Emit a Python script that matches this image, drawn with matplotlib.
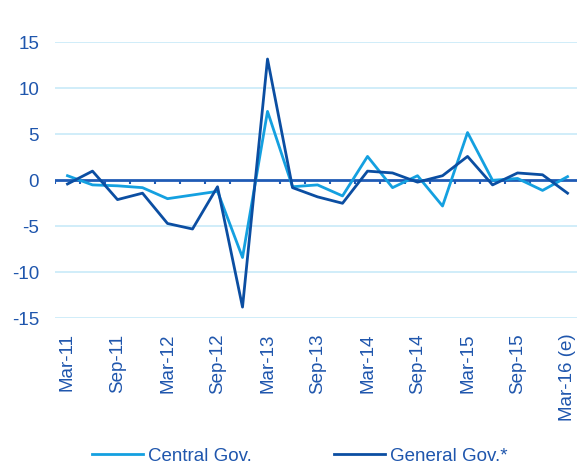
import matplotlib
matplotlib.use("Agg")
import matplotlib.pyplot as plt
from matplotlib.lines import Line2D

plt.rcParams['font.family'] = ['Liberation Sans', 'DejaVu Sans']

# quarterly balance, Mar-11 .. Mar-16 (e)
quarters = ['Mar-11', 'Jun-11', 'Sep-11', 'Dec-11', 'Mar-12', 'Jun-12', 'Sep-12', 'Dec-12',
            'Mar-13', 'Jun-13', 'Sep-13', 'Dec-13', 'Mar-14', 'Jun-14', 'Sep-14', 'Dec-14',
            'Mar-15', 'Jun-15', 'Sep-15', 'Dec-15', 'Mar-16 (e)']
central_gov = [0.5, -0.5, -0.6, -0.8, -2.0, -1.6, -1.2, -8.4, 7.5, -0.7, -0.5,
               -1.7, 2.6, -0.8, 0.5, -2.8, 5.2, 0.0, 0.2, -1.1, 0.4]
general_gov = [-0.4, 1.0, -2.1, -1.4, -4.7, -5.3, -0.7, -13.8, 13.2, -0.8, -1.8,
               -2.5, 1.0, 0.8, -0.2, 0.5, 2.6, -0.5, 0.8, 0.6, -1.4]
yticks = [-15, -10, -5, 0, 5, 10, 15]

light = '#14a0e0'
dark = '#0b4ea2'
txt = '#1f56ad'
grid = '#c8eaf8'
fs = 13.5

fig = plt.figure(figsize=(5.77, 4.72), dpi=100)
ax = fig.add_axes([0.0953, 0.326, 0.91, 0.584])

x = list(range(len(quarters)))
ax.set_xlim(-0.5, len(quarters) - 0.5)
ax.set_ylim(-15, 15)

for v in yticks:
    if v != 0:
        ax.axhline(v, color=grid, lw=1.2, zorder=0)

ax.plot(x, central_gov, color=light, lw=2, zorder=3)
ax.plot(x, general_gov, color=dark, lw=2, zorder=4)

# zero axis with small tick marks between categories
ax.axhline(0, color='#1f5bb5', lw=2, zorder=2)
for b in range(len(quarters) + 1):
    ax.plot([b - 0.5, b - 0.5], [0, -0.35], color='#1f5bb5', lw=1.5, zorder=2,
            solid_capstyle='butt')

for s in ax.spines.values():
    s.set_visible(False)

ax.set_yticks(yticks)
ax.set_yticklabels([str(v) for v in yticks])
ax.tick_params(axis='y', length=0, pad=11.5, labelsize=fs, labelcolor=txt)

ax.set_xticks(x[::2])
ax.set_xticklabels(quarters[::2], rotation=90)
ax.tick_params(axis='x', length=0, pad=11, labelsize=fs, labelcolor=txt)

handles = [Line2D([], [], color=light, lw=2), Line2D([], [], color=dark, lw=2)]
fig.legend(handles, ['Central Gov.', 'General Gov.*'], loc='center',
           bbox_to_anchor=(0.52, 0.034), ncol=2, frameon=False, fontsize=fs,
           labelcolor=txt, handlelength=2.7, handletextpad=0.27, columnspacing=4.4,
           borderpad=0, borderaxespad=0)

fig.savefig('out.png', dpi=100)
